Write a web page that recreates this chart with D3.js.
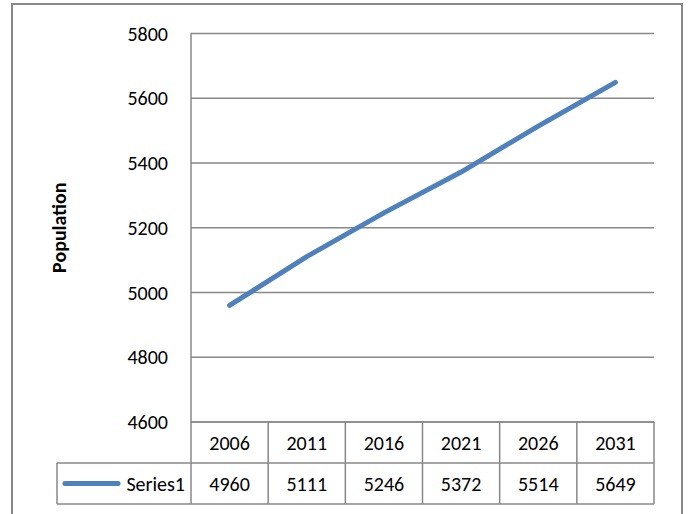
<!DOCTYPE html>
<html>
<head>
<meta charset="utf-8">
<script src="https://cdn.jsdelivr.net/npm/d3@7"></script>
<style>
  body { margin: 0; background: #fff; }
  text { font-family: Carlito, Calibri, "Open Sans", sans-serif; fill: #000; }
</style>
</head>
<body>
<div class="chart"></div>
<script>
var years = ["2006", "2011", "2016", "2021", "2026", "2031"];
var population = [4960, 5111, 5246, 5372, 5514, 5649];
var yTicks = [4600, 4800, 5000, 5200, 5400, 5600, 5800];
var seriesName = "Series1";
var axisTitle = "Population";

var W = 688, H = 514;
var plot = {left: 191, right: 654, top: 33.5, bottom: 422};
var rowH = 41;
var gridColor = "#888";
var lineColor = "#4f81bd";
var fs = "20px";

var svg = d3.select(".chart")
			.append("svg")
			.attr("width", W)
			.attr("height", H);

// outer chart border (runs off the bottom)
svg.append("rect")
   .attr("x", 12).attr("y", 4)
   .attr("width", 670).attr("height", 530)
   .style("fill", "none")
   .style("stroke", gridColor)
   .style("stroke-width", 2);

var x = d3.scaleBand()
		  .domain(years)
		  .range([plot.left, plot.right]);

var y = d3.scaleLinear()
		  .domain([4600, 5800])
		  .range([plot.bottom, plot.top]);

// gridlines
svg.append("g")
   .selectAll("line")
   .data(yTicks)
   .enter().append("line")
   .attr("x1", plot.left).attr("x2", plot.right)
   .attr("y1", d => y(d)).attr("y2", d => y(d))
   .style("stroke", gridColor)
   .style("stroke-width", 1.5);

// y axis line + labels
svg.append("line")
   .attr("x1", plot.left).attr("x2", plot.left)
   .attr("y1", plot.top).attr("y2", plot.bottom + 2 * rowH)
   .style("stroke", gridColor)
   .style("stroke-width", 1.5);

svg.append("g")
   .selectAll("text")
   .data(yTicks)
   .enter().append("text")
   .attr("x", 168)
   .attr("y", d => y(d))
   .attr("dy", "0.35em")
   .attr("text-anchor", "end")
   .style("font-size", fs)
   .text(d => d);

svg.append("text")
   .attr("transform", "translate(66," + ((plot.top + plot.bottom) / 2) + ") rotate(-90)")
   .attr("text-anchor", "middle")
   .style("font-size", "20px")
   .style("font-weight", "bold")
   .text(axisTitle);

// data table
var t1 = plot.bottom, t2 = plot.bottom + rowH, t3 = plot.bottom + 2 * rowH;
var tbl = svg.append("g")
			 .style("stroke", gridColor)
			 .style("stroke-width", 1.5);
tbl.append("line").attr("x1", plot.left).attr("x2", plot.right).attr("y1", t1).attr("y2", t1);
tbl.append("line").attr("x1", 57).attr("x2", plot.right).attr("y1", t2).attr("y2", t2);
tbl.append("line").attr("x1", 57).attr("x2", plot.right).attr("y1", t3).attr("y2", t3);
tbl.append("line").attr("x1", 57).attr("x2", 57).attr("y1", t2).attr("y2", t3);
tbl.selectAll(".col")
   .data(years)
   .enter().append("line")
   .attr("x1", d => x(d) + x.bandwidth()).attr("x2", d => x(d) + x.bandwidth())
   .attr("y1", t1).attr("y2", t3);

svg.append("g")
   .selectAll("text")
   .data(years)
   .enter().append("text")
   .attr("x", d => x(d) + x.bandwidth() / 2)
   .attr("y", (t1 + t2) / 2)
   .attr("dy", "0.35em")
   .attr("text-anchor", "middle")
   .style("font-size", fs)
   .text(d => d);

svg.append("g")
   .selectAll("text")
   .data(population)
   .enter().append("text")
   .attr("x", (d, i) => x(years[i]) + x.bandwidth() / 2)
   .attr("y", (t2 + t3) / 2)
   .attr("dy", "0.35em")
   .attr("text-anchor", "middle")
   .style("font-size", fs)
   .text(d => d);

// legend key
svg.append("line")
   .attr("x1", 65).attr("x2", 118)
   .attr("y1", (t2 + t3) / 2).attr("y2", (t2 + t3) / 2)
   .style("stroke", lineColor)
   .style("stroke-width", 5)
   .style("stroke-linecap", "round");

svg.append("text")
   .attr("x", 185)
   .attr("y", (t2 + t3) / 2)
   .attr("dy", "0.35em")
   .attr("text-anchor", "end")
   .style("font-size", fs)
   .text(seriesName);

// series line
var line = d3.line()
			 .x((d, i) => x(years[i]) + x.bandwidth() / 2)
			 .y(d => y(d));

svg.append("path")
   .datum(population)
   .attr("d", line)
   .style("fill", "none")
   .style("stroke", lineColor)
   .style("stroke-width", 5)
   .style("stroke-linecap", "round")
   .style("stroke-linejoin", "round");
</script>
</body>
</html>
